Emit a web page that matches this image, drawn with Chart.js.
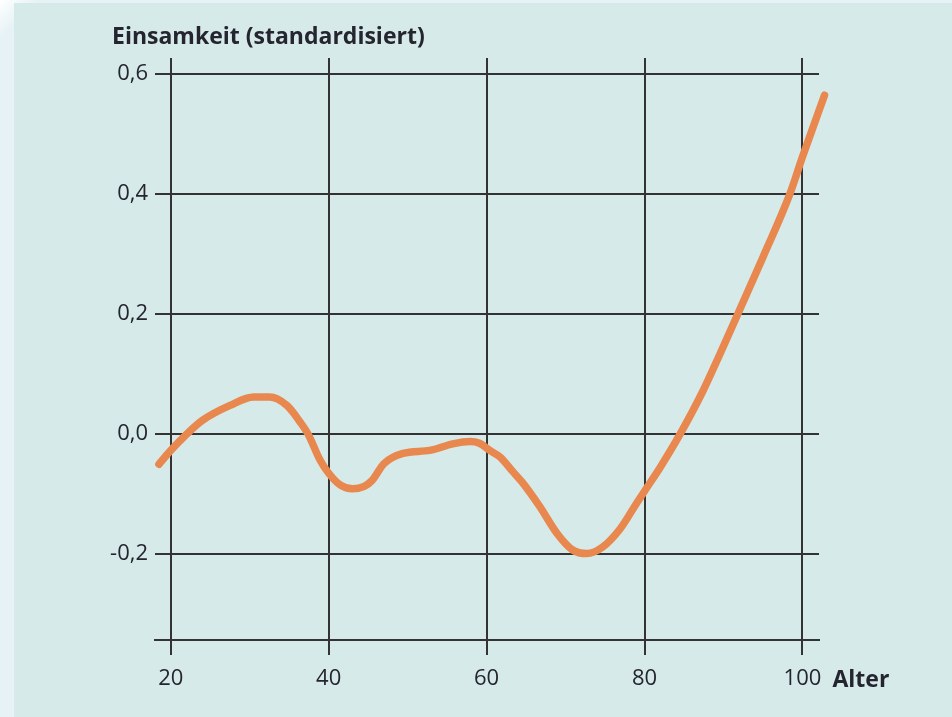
<!DOCTYPE html>
<html>
<head>
<meta charset="utf-8">
<script src="https://cdn.jsdelivr.net/npm/chart.js@4/dist/chart.umd.min.js"></script>
<style>
  html, body { margin: 0; padding: 0; background: #ffffff; }
  canvas { display: block; }
</style>
</head>
<body>
<canvas id="c" width="952" height="717"></canvas>
<script>
// Data
const ages = [18.5, 20, 22, 24, 27.5, 30.5, 32.5, 34.7, 36.4, 37.4, 38.9, 40, 41.5, 43, 44.5, 45.5, 47, 49.4, 52.8, 55.7, 57.9, 59.1, 60.4, 61.7, 63.3, 64.5, 66.7, 68.9, 70.9, 72.7, 74.7, 76.9, 79, 80, 82, 84.5, 87.4, 89.5, 91.8, 95, 98.4, 100, 102.8];
const loneliness = [-0.05, -0.027, 0, 0.023, 0.048, 0.062, 0.062, 0.048, 0.02, 0, -0.043, -0.065, -0.085, -0.091, -0.087, -0.077, -0.049, -0.032, -0.027, -0.016, -0.012, -0.015, -0.027, -0.038, -0.062, -0.08, -0.12, -0.165, -0.193, -0.199, -0.188, -0.158, -0.115, -0.095, -0.055, 0, 0.072, 0.132, 0.2, 0.295, 0.4, 0.462, 0.565];
const xTicks = [20, 40, 60, 80, 100];
const yTicks = [-0.2, 0, 0.2, 0.4, 0.6];
const yTitle = 'Einsamkeit (standardisiert)';
const xTitle = 'Alter';

const textColor = '#25252f';
const gridColor = '#333333';
const fontFamily = '"Open Sans", "Noto Sans", sans-serif';

const backgroundPlugin = {
  id: 'bg',
  beforeDraw(chart) {
    const ctx = chart.ctx;
    ctx.save();
    const g = ctx.createLinearGradient(0, 0, 20, 20);
    g.addColorStop(0, '#ffffff');
    g.addColorStop(1, '#e6f2f5');
    ctx.fillStyle = g;
    ctx.fillRect(0, 0, chart.width, chart.height);
    ctx.fillStyle = '#d6eaea';
    ctx.fillRect(14, 3, chart.width - 14, chart.height - 3);
    ctx.restore();
  }
};

const titlesPlugin = {
  id: 'titles',
  afterDraw(chart) {
    const ctx = chart.ctx;
    ctx.save();
    ctx.fillStyle = textColor;
    ctx.font = 'bold 23px ' + fontFamily;
    ctx.textBaseline = 'middle';
    ctx.textAlign = 'left';
    ctx.fillText(yTitle, 112, 37);
    const xs = chart.scales.x;
    ctx.fillText(xTitle, xs.getPixelForValue(100) + 30, 680);
    ctx.restore();
  }
};

new Chart(document.getElementById('c'), {
  type: 'line',
  data: {
    datasets: [{
      data: ages.map((a, i) => ({ x: a, y: loneliness[i] })),
      borderColor: '#e8884f',
      borderWidth: 7.5,
      borderCapStyle: 'round',
      borderJoinStyle: 'round',
      pointRadius: 0,
      tension: 0.4,
      cubicInterpolationMode: 'monotone',
      fill: false,
      clip: false
    }]
  },
  options: {
    responsive: false,
    devicePixelRatio: 1,
    animation: false,
    layout: { padding: { left: 0, top: 58, right: 133, bottom: 0 } },
    plugins: { legend: { display: false }, tooltip: { enabled: false } },
    scales: {
      x: {
        type: 'linear',
        min: 18,
        max: 102.1,
        afterBuildTicks(scale) { scale.ticks = xTicks.map(v => ({ value: v })); },
        afterFit(scale) { scale.height = 77; },
        grid: { color: gridColor, lineWidth: 2, drawTicks: true, tickLength: 15, tickColor: gridColor },
        border: { display: true, color: gridColor, width: 2 },
        ticks: {
          color: textColor,
          font: { family: fontFamily, size: 22 },
          padding: 11,
          maxRotation: 0,
          callback: v => String(v)
        }
      },
      y: {
        type: 'linear',
        min: -0.343,
        max: 0.627,
        afterBuildTicks(scale) { scale.ticks = yTicks.map(v => ({ value: v })); },
        afterFit(scale) { scale.width = 155; },
        grid: { color: gridColor, lineWidth: 2, drawTicks: false },
        border: { display: false },
        ticks: {
          color: textColor,
          font: { family: fontFamily, size: 22 },
          padding: 7,
          callback: v => (Math.abs(v) < 1e-9 ? '0,0' : v.toFixed(1).replace('.', ','))
        }
      }
    }
  },
  plugins: [backgroundPlugin, titlesPlugin]
});
</script>
</body>
</html>
